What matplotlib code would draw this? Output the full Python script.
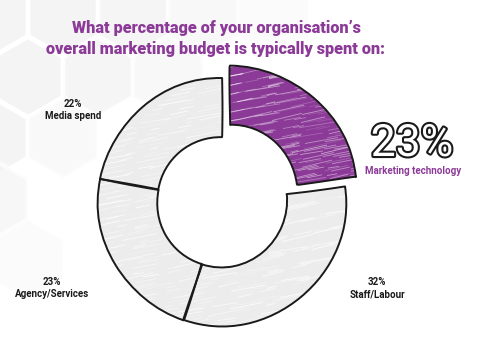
import matplotlib
matplotlib.use("Agg")
import matplotlib.pyplot as plt
import matplotlib.patheffects as pe
from matplotlib.patches import RegularPolygon, Wedge
from matplotlib.collections import LineCollection
import numpy as np

categories = ["Marketing technology", "Staff/Labour", "Agency/Services", "Media spend"]
values = [23, 32, 23, 22]
percent_labels = ["23%", "32%", "23%", "22%"]

title = "What percentage of your organisation’s\noverall marketing budget is typically spent on:"
purple = "#8C3A98"
gray = "#ECECEC"
ink = "#1a1a1a"

W, H = 500, 351
fig = plt.figure(figsize=(W / 100, H / 100), dpi=100)
fig.patch.set_facecolor("white")

# background hexagons (decoration)
bg = fig.add_axes([0, 0, 1, 1])
bg.set_xlim(0, W)
bg.set_ylim(H, 0)
bg.axis("off")
hex_r = 40
hex_cells = [
    (-7, 16, 1.0), (63, 16, 1.0), (133, 16, 0.9), (203, 16, 0.6), (273, 16, 0.3),
    (28, 77, 1.0), (98, 77, 0.9), (168, 77, 0.6),
    (-7, 138, 1.0), (63, 138, 0.5),
    (-7, 199, 0.7), (28, 260, 0.3),
]
for hx, hy, a in hex_cells:
    bg.add_patch(RegularPolygon((hx, hy), 6, radius=hex_r, orientation=0,
                                facecolor="#F4F4F4", edgecolor="white", lw=3,
                                alpha=a, zorder=0))

ax = fig.add_axes([0, 0, 1, 1])
ax.patch.set_alpha(0)
cx, cy, R = 222, H - 202, 124
ring_w = 59
explode = [12, 0, 0, 0]   # data units (pixels here)
wedges, _ = ax.pie(values, center=(cx, cy), radius=R, startangle=90, counterclock=False,
                   explode=explode, colors=[purple, gray, gray, gray],
                   wedgeprops=dict(width=ring_w, edgecolor=ink, linewidth=1.6))
# highlighted slice is drawn slightly larger
wedges[0].set_radius(127)
wedges[0].set_width(59)

# hand-drawn streak texture clipped to each wedge
for k, w in enumerate(wedges):
    is_purple = k == 0
    segs, cols = [], []
    step = 1.8 if is_purple else 3.0
    for j, y0 in enumerate(np.arange(-40, 380, step)):
        slope = 0.2 + 0.02 * (((j * 7) % 5) - 2)
        pos = 60 + (j * 23) % 40
        n = 0
        while pos < 400:
            L = 8 + (j * 13 + n * 29) % 30
            segs.append([(pos, y0 + slope * (pos - 60)), (pos + L, y0 + slope * (pos + L - 60))])
            a = [0.75, 0.35, 0.9, 0.5, 0.6, 0.25, 0.8][(j * 3 + n) % 7]
            cols.append((1, 1, 1, a * (0.6 if is_purple else 0.8)))
            pos += L + 6 + (j * 17 + n * 11) % 30
            n += 1
    lc = LineCollection(segs, colors=cols, linewidths=0.6 if is_purple else 0.7,
                        zorder=w.get_zorder() + 0.1)
    ax.add_collection(lc)
    lc.set_clip_path(w)
    outline = Wedge(w.center, w.r, w.theta1, w.theta2, width=w.width,
                    facecolor="none", edgecolor=ink, lw=1.4, joinstyle="round",
                    zorder=w.get_zorder() + 0.2)
    outline.set_sketch_params(scale=0.5, length=160, randomness=2)
    ax.add_patch(outline)
    w.set_edgecolor("none")

ax.set_xlim(0, W)
ax.set_ylim(0, H)
ax.set_aspect("equal")
ax.axis("off")

fig.text(216 / W, 1 - 38.5 / H, title, ha="center", va="center", color=purple,
         fontsize=11.7, fontweight="heavy", family="Roboto", linespacing=1.38)

# big outlined percentage
fig.text(412 / W, 1 - 144 / H, percent_labels[0], ha="center", va="center", color="white",
         fontsize=32, family="Roboto",
         path_effects=[pe.withStroke(linewidth=3, foreground=ink)])
fig.text(413 / W, 1 - 171 / H, categories[0], ha="center", va="center", color=purple,
         fontsize=7, fontweight="bold", family="Roboto")

label_pos = {1: (377, 288), 2: (52, 288), 3: (73, 110)}
for i, (x, y) in label_pos.items():
    fig.text(x / W, 1 - y / H, f"{percent_labels[i]}\n{categories[i]}", ha="center", va="center",
             color=ink, fontsize=7, fontweight="bold", family="Roboto", linespacing=1.3)

fig.savefig("out.png", dpi=100)
